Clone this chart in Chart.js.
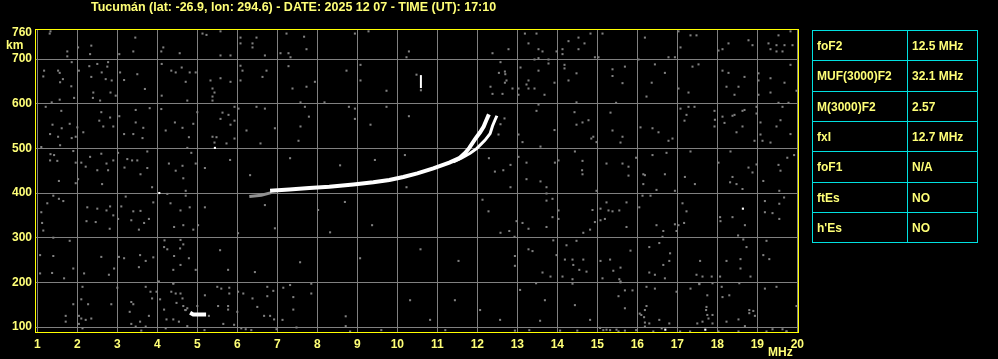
<!DOCTYPE html>
<html>
<head>
<meta charset="utf-8">
<script src="https://cdn.jsdelivr.net/npm/chart.js@4.4.1/dist/chart.umd.min.js"></script>
<style>
  html, body { margin: 0; padding: 0; background: #000; }
  #wrap { position: relative; width: 998px; height: 359px; overflow: hidden; }
  #ionogram { position: absolute; left: 0; top: 0; }
  .cell {
    position: absolute; box-sizing: border-box; border: 1px solid #00e0e0;
    color: #ffff77; font: bold 12px "Liberation Sans", Arial, sans-serif;
    padding-left: 4px; display: flex; align-items: center; white-space: nowrap;
  }
</style>
</head>
<body>
<div id="wrap">
  <canvas id="ionogram" width="998" height="359"></canvas>
  <div id="params"></div>
</div>
<script>
// ---- data (frequency in MHz, virtual height in km) ----
const titleText = 'Tucumán (lat: -26.9, lon: 294.6) - DATE: 2025 12 07 - TIME (UT): 17:10';
const xTicks = [1, 2, 3, 4, 5, 6, 7, 8, 9, 10, 11, 12, 13, 14, 15, 16, 17, 18, 19, 20];
const yTicks = [100, 200, 300, 400, 500, 600, 700, 760];
const xUnit = 'MHz';
const yUnit = 'km';

const paramNames = ['foF2', 'MUF(3000)F2', 'M(3000)F2', 'fxI', 'foF1', 'ftEs', "h'Es"];
const paramValues = ['12.5 MHz', '32.1 MHz', '2.57', '12.7 MHz', 'N/A', 'NO', 'NO'];

// F2 ordinary trace
const oTrace = [[6.82, 405], [7.3, 408], [7.8, 411], [8.3, 414], [8.9, 419], [9.4, 424], [9.8, 429],
  [10.15, 436], [10.5, 444], [10.9, 455], [11.3, 468], [11.55, 478], [11.7, 490], [11.8, 501],
  [11.94, 520], [12.07, 536], [12.16, 549], [12.22, 562], [12.29, 576]];
// F2 extraordinary trace
const xTrace = [[11.4, 470], [11.6, 478], [11.82, 489], [11.99, 500], [12.19, 518], [12.32, 533],
  [12.38, 550], [12.44, 563], [12.49, 573]];
// faint start of the trace
const traceStart = [[6.3, 392], [6.6, 395], [6.85, 401]];
// low echo near 5 MHz
const lowEcho = [[4.82, 132], [4.9, 128], [5.22, 128]];
// short vertical mark
const spike = [[10.59, 635], [10.59, 664]];
const whiteDots = [[4.05, 400], [18.64, 365], [16.7, 94], [17.7, 94], [5.44, 501]];

// scattered noise
const noiseDots = [
  [1.33, 762], [1.31, 757], [1.75, 717], [2.02, 726], [2.35, 730], [2.32, 711], [1.75, 706], [1.86, 693],
  [2.04, 674], [1.17, 674], [1.15, 661], [1.52, 674], [1.56, 669], [1.64, 655], [1.57, 648], [1.85, 639],
  [2.4, 625], [2.57, 607], [2.39, 613], [1.92, 613], [1.56, 609], [1.36, 603], [1.21, 593], [1.6, 584],
  [1.38, 553], [1.61, 545], [1.81, 555], [2.0, 547], [1.32, 532], [1.52, 526], [1.86, 523], [1.96, 526],
  [2.15, 536], [2.55, 562], [2.65, 549], [2.82, 569], [2.6, 581], [2.9, 549], [3.05, 572], [3.17, 532],
  [3.4, 532], [3.46, 558], [3.63, 523], [3.65, 546], [3.46, 586], [3.81, 590], [4.1, 588], [3.07, 670],
  [3.17, 653], [2.86, 652], [2.71, 655], [2.61, 670], [2.75, 683], [2.77, 693], [2.5, 689], [2.3, 684],
  [2.35, 660], [3.05, 711], [3.4, 717], [3.45, 748], [3.5, 666], [3.69, 633], [4.11, 689], [4.35, 674],
  [4.46, 670], [4.61, 681], [4.71, 649], [4.81, 670], [4.96, 670], [4.56, 713], [4.15, 726], [4.1, 717],
  [4.21, 540], [4.44, 558], [4.63, 546], [4.79, 525], [4.9, 555], [5.0, 581], [4.75, 607], [4.11, 618],
  [2.96, 618], [2.83, 625],
  [1.1, 503], [1.57, 507], [1.9, 494], [1.33, 487], [1.32, 473], [1.42, 485], [1.5, 472], [1.96, 468],
  [2.1, 468], [2.32, 481], [2.21, 459], [2.6, 488], [2.73, 466], [2.77, 451], [2.5, 451], [2.62, 420],
  [2.9, 473], [3.02, 490], [3.25, 476], [3.37, 473], [3.5, 473], [3.75, 493], [3.75, 456], [3.18, 457],
  [3.58, 442], [3.87, 413], [4.29, 466], [4.46, 450], [4.63, 461], [4.75, 501], [4.85, 490], [4.96, 466],
  [4.65, 433], [4.71, 405], [1.96, 422], [1.54, 427], [2.02, 431], [1.4, 394], [1.54, 387], [1.65, 382],
  [1.25, 377], [1.1, 357], [1.12, 333], [1.15, 316], [2.25, 368], [2.23, 337], [2.5, 365], [2.46, 335],
  [2.73, 361], [2.82, 370], [2.9, 350], [3.02, 342], [3.21, 392], [3.1, 370], [3.4, 359], [3.58, 360],
  [3.35, 339], [3.67, 333], [3.79, 342], [3.9, 379], [2.81, 320], [3.54, 318], [4.25, 398], [4.33, 377],
  [4.58, 361], [4.81, 368], [4.71, 394], [4.42, 324], [4.65, 328], [4.9, 318], [5.02, 328], [1.4, 300],
  [1.81, 293], [1.07, 261], [1.4, 259], [2.6, 257], [3.04, 257], [3.17, 254], [3.57, 261], [3.71, 248],
  [3.9, 256], [2.92, 231], [3.54, 234], [2.79, 217], [1.9, 231], [2.17, 220], [1.67, 209], [1.37, 221],
  [1.07, 220], [4.18, 294], [4.17, 279], [4.25, 274], [4.58, 295], [4.65, 285], [4.57, 276], [4.42, 259],
  [4.79, 254], [4.96, 228], [4.58, 239], [4.4, 228], [4.4, 197], [4.04, 202],
  [5.13, 757], [5.23, 754], [5.58, 762], [6.08, 748], [6.48, 748], [6.08, 735], [6.38, 735], [6.38, 726],
  [5.58, 708], [5.83, 708], [6.69, 708], [7.23, 757], [7.67, 750], [7.73, 722], [7.08, 713], [7.28, 713],
  [7.33, 704], [7.28, 684], [6.08, 685], [6.13, 674], [6.73, 674], [6.63, 660], [6.08, 652], [5.83, 649],
  [5.58, 657], [5.33, 652], [5.38, 634], [5.43, 625], [5.38, 616], [5.38, 607], [7.38, 634], [7.73, 638],
  [7.94, 649], [7.58, 603], [8.18, 603], [8.73, 674], [9.08, 687], [8.94, 757], [9.28, 762], [9.08, 652],
  [9.73, 629], [9.73, 593], [8.79, 593], [8.94, 589], [8.94, 566], [9.33, 553], [5.93, 593], [6.03, 589],
  [6.48, 593], [6.69, 589], [5.63, 580], [5.78, 575], [5.58, 566], [5.93, 562], [5.83, 553], [6.23, 540],
  [6.94, 545], [7.79, 571], [7.69, 593], [7.58, 549], [7.53, 517], [6.58, 511], [5.73, 511], [5.48, 525],
  [5.38, 526], [5.93, 522], [5.43, 513],
  [10.29, 717], [10.23, 704], [10.48, 665], [10.29, 572], [12.38, 713], [12.78, 722], [12.58, 693],
  [12.69, 672], [12.7, 666], [12.54, 669], [12.73, 652], [12.69, 647], [12.33, 638], [12.38, 622],
  [12.63, 622], [12.88, 634], [13.03, 634], [13.03, 620], [13.08, 681], [13.19, 757], [13.48, 757],
  [13.28, 735], [13.53, 722], [13.63, 717], [13.98, 717], [13.43, 699], [13.53, 702], [13.78, 699],
  [13.78, 690], [13.53, 674], [13.28, 652], [13.23, 643], [13.28, 634], [13.43, 634], [13.68, 620],
  [13.93, 647], [14.13, 722], [14.13, 711], [14.28, 740], [14.53, 748], [14.68, 735], [14.53, 722],
  [14.83, 757], [14.94, 704], [14.18, 687], [14.18, 679], [14.48, 668], [14.28, 652], [13.48, 584],
  [13.53, 598], [14.43, 581], [14.48, 603], [14.63, 558], [14.78, 563], [14.48, 553], [13.93, 541],
  [13.03, 531], [13.13, 514], [13.58, 504], [12.68, 567], [12.58, 554], [12.53, 531], [14.98, 514],
  [15.13, 757], [16.19, 748], [17.03, 762], [17.33, 753], [17.48, 753], [17.08, 726], [16.78, 704],
  [16.94, 704], [15.03, 704], [16.03, 699], [18.03, 719], [18.13, 722], [18.28, 735], [18.78, 742],
  [18.88, 731], [19.28, 735], [19.48, 731], [19.68, 731], [19.88, 731], [19.53, 753], [19.83, 762],
  [19.33, 722], [19.48, 717], [19.63, 717], [15.38, 677], [15.38, 662], [15.69, 683], [15.63, 646],
  [16.44, 688], [16.69, 669], [16.36, 647], [16.23, 616], [17.38, 683], [17.53, 688], [17.03, 634],
  [17.28, 625], [18.13, 674], [18.28, 669], [18.68, 660], [18.23, 638], [18.53, 638], [18.43, 620],
  [19.03, 668], [19.03, 652], [19.33, 657], [19.68, 647], [19.83, 687], [19.33, 625], [19.03, 620],
  [19.98, 629], [15.47, 602], [15.33, 580], [15.38, 540], [15.63, 526], [14.85, 522], [14.9, 526],
  [15.58, 513], [16.08, 547], [16.38, 545], [16.53, 536], [16.78, 517], [16.88, 522], [17.08, 589],
  [17.28, 593], [17.43, 593], [17.23, 575], [17.18, 562], [17.93, 584], [17.94, 564], [17.93, 549],
  [18.13, 571], [18.18, 557], [18.38, 573], [18.43, 575], [18.63, 584], [18.68, 586], [18.98, 578],
  [18.63, 549], [18.48, 536], [18.98, 593], [19.08, 558], [19.08, 531], [19.13, 517], [18.93, 517],
  [19.33, 513], [19.58, 563], [19.48, 549], [19.83, 532], [19.63, 593], [19.78, 602], [19.53, 602],
  [10.19, 485], [10.23, 413], [12.29, 478], [12.44, 448], [12.65, 451], [12.83, 463], [12.83, 413],
  [13.03, 481], [13.23, 468], [13.23, 431], [13.58, 426], [13.73, 413], [13.73, 399], [13.73, 383],
  [13.88, 387], [13.94, 468], [14.03, 473], [14.44, 493], [14.63, 472], [14.63, 442], [14.62, 451],
  [15.23, 466], [14.98, 405], [15.63, 466], [15.78, 459], [15.78, 439], [15.97, 479], [16.15, 442],
  [16.19, 440], [16.15, 420], [16.38, 485], [16.48, 407], [16.69, 442], [16.73, 490], [16.94, 405],
  [17.19, 436], [17.33, 493], [17.44, 420], [18.03, 468], [18.33, 493], [18.38, 436], [18.32, 424],
  [18.48, 420], [18.63, 409], [18.78, 457], [18.88, 446], [18.98, 464], [19.15, 427], [19.53, 463],
  [19.58, 450], [19.75, 479], [19.92, 485], [19.55, 405], [19.67, 390], [19.19, 382], [19.55, 376],
  [19.19, 357], [19.38, 355], [19.55, 342], [18.07, 346], [18.08, 337], [18.38, 346], [18.69, 328],
  [18.52, 305], [18.65, 296], [18.73, 279], [19.23, 293], [19.15, 261], [19.3, 252], [18.23, 248],
  [18.58, 252], [18.58, 231], [18.83, 213], [18.07, 213], [17.57, 248], [17.48, 217], [17.63, 213],
  [17.86, 213], [17.55, 197], [17.13, 377], [17.23, 359], [17.17, 333], [16.94, 330], [17.03, 328],
  [16.98, 315], [16.65, 315], [16.63, 302], [16.48, 328], [16.3, 279], [16.55, 288], [16.82, 265],
  [16.8, 248], [16.65, 239], [16.3, 222], [16.44, 217], [16.69, 209], [16.05, 368], [16.13, 394],
  [16.33, 394], [15.73, 379], [15.73, 324], [15.83, 271], [15.55, 361], [15.38, 359], [15.28, 361],
  [15.23, 379], [15.19, 342], [15.08, 365], [15.08, 339], [14.94, 335], [14.88, 362], [14.82, 318],
  [14.65, 311], [14.48, 293], [14.23, 283], [14.03, 361], [14.03, 342], [13.88, 346], [13.73, 324],
  [13.9, 294], [13.98, 261], [14.19, 251], [14.38, 251], [14.4, 239], [14.55, 228], [14.65, 251],
  [15.08, 248], [15.32, 251], [15.58, 233], [15.4, 226], [15.13, 209], [15.55, 207], [15.58, 202],
  [14.73, 224], [14.38, 207], [14.38, 197], [14.13, 213], [13.83, 213], [13.63, 222], [13.47, 198],
  [12.94, 237], [12.94, 259], [12.93, 302], [13.28, 274], [13.38, 270], [12.98, 337], [13.13, 333],
  [13.28, 320], [12.8, 315], [12.58, 311], [12.28, 359], [12.13, 385], [10.58, 274], [11.53, 248],
  [2.13, 190], [1.9, 151], [2.27, 151], [2.1, 162], [1.71, 125], [1.71, 112], [2.04, 125], [2.1, 119],
  [2.21, 116], [2.35, 119], [2.04, 107], [2.13, 97], [2.85, 151], [3.0, 188], [3.31, 134], [3.35, 156],
  [3.4, 151], [3.35, 107], [3.57, 112], [3.46, 101], [3.71, 101], [3.6, 92], [3.79, 125], [3.71, 190],
  [3.83, 179], [3.87, 164], [3.98, 179], [4.07, 162], [4.17, 139], [4.23, 117], [4.21, 97], [4.4, 117],
  [4.48, 154], [4.54, 112], [4.35, 179], [4.4, 198], [4.46, 175], [4.58, 175], [4.63, 164], [4.65, 147],
  [4.71, 138], [4.75, 102], [5.0, 147], [5.19, 171], [5.29, 125], [5.18, 93], [5.5, 190], [5.6, 186],
  [5.8, 188], [5.8, 175], [6.02, 179], [6.15, 175], [5.52, 147], [5.77, 147], [5.77, 139], [5.65, 107],
  [5.92, 105], [6.0, 134], [6.1, 97], [6.21, 95], [6.35, 93], [6.38, 164], [6.5, 145], [6.67, 125],
  [6.75, 190], [6.75, 169], [6.82, 125], [6.9, 181], [6.92, 117], [6.98, 95], [7.15, 188], [7.13, 116],
  [7.4, 167], [7.4, 139], [7.48, 99], [7.85, 197], [7.85, 175], [8.71, 124], [8.71, 102], [8.82, 90],
  [4.7, 138], [4.75, 142],
  [15.58, 200], [15.69, 182], [15.53, 169], [15.88, 182], [16.23, 190], [16.44, 186], [16.98, 179],
  [17.33, 186], [17.55, 196], [17.75, 171], [17.88, 198], [18.11, 190], [18.3, 171], [18.55, 198],
  [19.19, 186], [19.48, 190], [18.13, 167], [15.69, 142], [16.06, 130], [16.1, 127], [16.23, 147],
  [16.19, 138], [16.17, 122], [16.19, 110], [16.19, 101], [16.3, 108], [16.55, 116], [16.8, 108],
  [16.61, 97], [17.73, 145], [17.72, 138], [17.75, 127], [17.78, 119], [17.88, 127], [17.63, 112],
  [17.5, 108], [17.88, 108], [18.23, 112], [18.53, 117], [18.69, 102], [18.8, 138], [18.9, 136],
  [18.8, 131], [18.94, 125], [19.63, 95], [19.73, 90], [19.38, 95], [19.98, 147],
  [15.15, 93], [15.23, 94], [15.32, 93], [15.48, 94], [15.53, 90], [15.69, 92], [15.97, 93], [16.4, 90],
  [17.07, 90], [17.32, 90], [18.03, 90], [18.53, 90], [19.23, 90], [19.73, 90],
  [5.19, 368], [6.02, 310], [6.44, 223], [6.94, 321], [7.57, 245], [8.69, 380], [9.07, 254], [8.32, 312],
  [5.57, 272], [6.69, 373], [7.32, 194], [8.02, 362], [9.37, 328], [5.77, 228], [5.82, 474], [7.32, 478],
  [8.57, 462], [9.44, 474], [6.32, 440], [5.19, 456],
  [12.94, 92], [13.57, 114], [14.07, 92], [15.07, 98], [11.44, 160], [12.07, 138], [13.07, 183],
  [14.44, 149], [10.82, 116], [10.32, 160], [12.57, 116], [13.69, 160], [14.82, 116], [10.59, 630],
  [9.6, 93], [11.2, 93], [13.3, 93], [14.5, 92]
];

// ---- layout constants ----
const labelColor = '#ffff77';
const fontFamily = '"Liberation Sans", Arial, sans-serif';
const toXY = pts => pts.map(p => ({ x: p[0], y: p[1] }));

function traceSet(pts, width, color) {
  return {
    type: 'scatter', data: toXY(pts), showLine: true, borderColor: color,
    borderWidth: width, pointRadius: 0, tension: 0, order: 0
  };
}

const frame = {
  id: 'frame',
  afterDraw(chart) {
    const { ctx, chartArea: a } = chart;
    ctx.save();
    ctx.strokeStyle = '#ffff00';
    ctx.lineWidth = 1;
    ctx.strokeRect(a.left - 0.5, a.top - 0.5, a.right - a.left + 1, a.bottom - a.top);
    ctx.fillStyle = labelColor;
    ctx.textBaseline = 'alphabetic';
    ctx.textAlign = 'left';
    ctx.font = 'bold 12.5px ' + fontFamily;
    ctx.fillText(titleText, 91, 11);
    ctx.font = 'bold 12px ' + fontFamily;
    ctx.fillText(yUnit, 6, 49);
    ctx.fillText(xUnit, 768, 356);
    ctx.restore();
  }
};

new Chart(document.getElementById('ionogram'), {
  type: 'scatter',
  data: {
    datasets: [
      traceSet(oTrace, 4, '#ffffff'),
      traceSet(xTrace, 3, '#ffffff'),
      traceSet(traceStart, 3, '#909090'),
      traceSet(lowEcho, 4, '#ffffff'),
      traceSet(spike, 2, '#ffffff'),
      { data: toXY(whiteDots), pointStyle: 'rect', pointRadius: 1.5, borderWidth: 0,
        backgroundColor: '#ffffff', order: 0 },
      { data: toXY(noiseDots), pointStyle: 'rect', pointRadius: 1.45, borderWidth: 0,
        backgroundColor: '#808080', order: 1 }
    ]
  },
  options: {
    responsive: false,
    animation: false,
    devicePixelRatio: 1,
    layout: { padding: { left: 0, top: 30, right: 200, bottom: 0 } },
    plugins: { legend: { display: false }, tooltip: { enabled: false }, title: { display: false } },
    scales: {
      x: {
        type: 'linear', min: 0.9675, max: 20.0175,
        afterBuildTicks: s => { s.ticks = xTicks.map(v => ({ value: v })); },
        afterFit: s => { s.height = 26; },
        grid: { color: '#808080', lineWidth: 1, drawTicks: false },
        border: { display: false },
        ticks: { color: labelColor, padding: 4, maxRotation: 0, autoSkip: false,
          font: { family: fontFamily, size: 12, weight: 'bold' } }
      },
      y: {
        type: 'linear', min: 86.6, max: 765,
        afterBuildTicks: s => { s.ticks = yTicks.map(v => ({ value: v })); },
        afterFit: s => { s.width = 36; },
        grid: { color: c => (c.tick && c.tick.value === 760 ? 'rgba(0,0,0,0)' : '#808080'),
          lineWidth: 1, drawTicks: false },
        border: { display: false },
        ticks: { color: labelColor, padding: 4, autoSkip: false,
          font: { family: fontFamily, size: 12, weight: 'bold' } }
      }
    }
  },
  plugins: [frame]
});

// ---- parameter table ----
const params = document.getElementById('params');
const colX = [812, 907, 977];
paramNames.forEach((name, i) => {
  const top = Math.round(30 + i * 30.33);
  const bottom = Math.round(30 + (i + 1) * 30.33);
  [name, paramValues[i]].forEach((txt, c) => {
    const d = document.createElement('div');
    d.className = 'cell';
    d.style.left = colX[c] + 'px';
    d.style.top = top + 'px';
    d.style.width = (colX[c + 1] - colX[c] + 1) + 'px';
    d.style.height = (bottom - top + 1) + 'px';
    d.textContent = txt;
    params.appendChild(d);
  });
});
</script>
</body>
</html>
